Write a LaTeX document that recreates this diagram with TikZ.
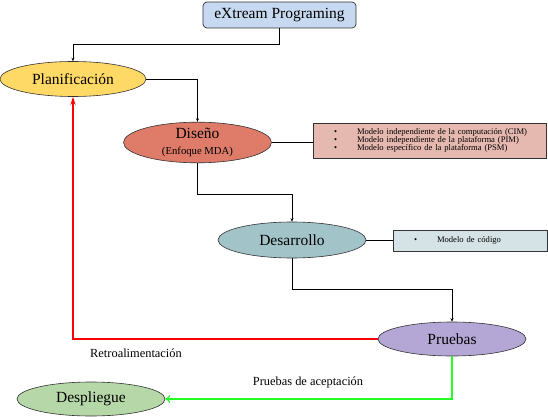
\documentclass[tikz,border=0pt]{standalone}
\usepackage{fontspec}
\setmainfont{Liberation Serif}
\usetikzlibrary{arrows.meta,positioning,calc,shapes.geometric}
\definecolor{xpfill}{HTML}{C6D9F1}
\definecolor{planfill}{HTML}{FFD966}
\definecolor{disfill}{HTML}{DF7B69}
\definecolor{cimfill}{HTML}{E6B9B0}
\definecolor{desfill}{HTML}{A2C4C9}
\definecolor{codfill}{HTML}{D5E3E6}
\definecolor{prufill}{HTML}{B4A7D6}
\definecolor{despfill}{HTML}{B6D7A8}
\definecolor{edge}{HTML}{333333}
\definecolor{fbgreen}{HTML}{22FF22}
\newcommand{\blt}{\makebox[23pt][l]{\textbullet}}
\begin{document}
\begin{tikzpicture}[x=1pt,y=-1pt,
  phase/.style={ellipse,draw=edge,line width=0.6pt,inner sep=0pt,
    minimum width=148pt,minimum height=35pt,font=\fontsize{15.5}{17}\selectfont},
  infobox/.style={rectangle,draw=edge,line width=0.8pt,inner sep=0pt,align=left,
    font=\fontsize{8.6}{7.9}\selectfont},
  link/.style={draw=black,line width=0.7pt,-{Stealth[length=3.5pt,width=3pt]}},
  plain/.style={draw=black,line width=0.7pt},
  lbl/.style={font=\fontsize{12.4}{14}\selectfont,inner sep=0pt}]
\useasboundingbox (0,0) rectangle (548,417);
\node[draw=edge,fill=xpfill,rounded corners=4pt,line width=0.7pt,minimum width=153pt,
  minimum height=26pt,inner sep=0pt,font=\fontsize{15.5}{17}\selectfont] (xp) at (279.5,15) {eXtream Programing};
\node[phase,fill=planfill,minimum width=146pt] (plan) at (73,79) {Planificación};
\node[phase,fill=disfill,minimum height=39pt,align=center] (dis) at (197.5,142.5)
  {Diseño\\[-1pt]{\fontsize{10.7}{12}\selectfont (Enfoque MDA)}};
\node[infobox,fill=cimfill,minimum width=233pt,minimum height=35pt,text width=233pt] (cim) at (429.5,140.5)
  {\hspace*{21pt}\blt Modelo independiente de la computación (CIM)\\
   \hspace*{21pt}\blt Modelo independiente de la plataforma (PIM)\\
   \hspace*{21pt}\blt Modelo específico de la plataforma (PSM)};
\node[phase,fill=desfill,minimum height=36pt] (des) at (292,240) {Desarrollo};
\node[infobox,fill=codfill,minimum width=154pt,minimum height=21pt,text width=154pt] (cod) at (470,240.5)
  {\hspace*{21pt}\blt Modelo de código};
\node[phase,fill=prufill,minimum height=34pt] (pru) at (452,339) {Pruebas};
\node[phase,fill=despfill,minimum height=34pt] (desp) at (91,399) {Despliegue};
\node[lbl] (retro) at (136,353) {Retroalimentación};
\node[lbl] (acep) at (308,383) {Pruebas de aceptación};
\draw[link] (xp.south) -- (xp.south |- 0,44) -| (plan.north);
\draw[link] (plan.east) -| (dis.north);
\draw[link] (dis.south) -- (dis.south |- 0,194) -| (des.north);
\draw[link] (des.south) -- (des.south |- 0,289) -| (pru.north);
\draw[plain] (dis.east) -- (dis.east -| cim.west);
\draw[plain] (des.east) -- (des.east -| cod.west);
\draw[red,line width=2pt,-{Stealth[length=8pt,width=5pt]}] (pru.west) -| (plan.south);
\draw[fbgreen,line width=1.2pt,-{To[length=5pt,width=8pt]}] (pru.south) |- (desp.east);
\end{tikzpicture}
\end{document}
